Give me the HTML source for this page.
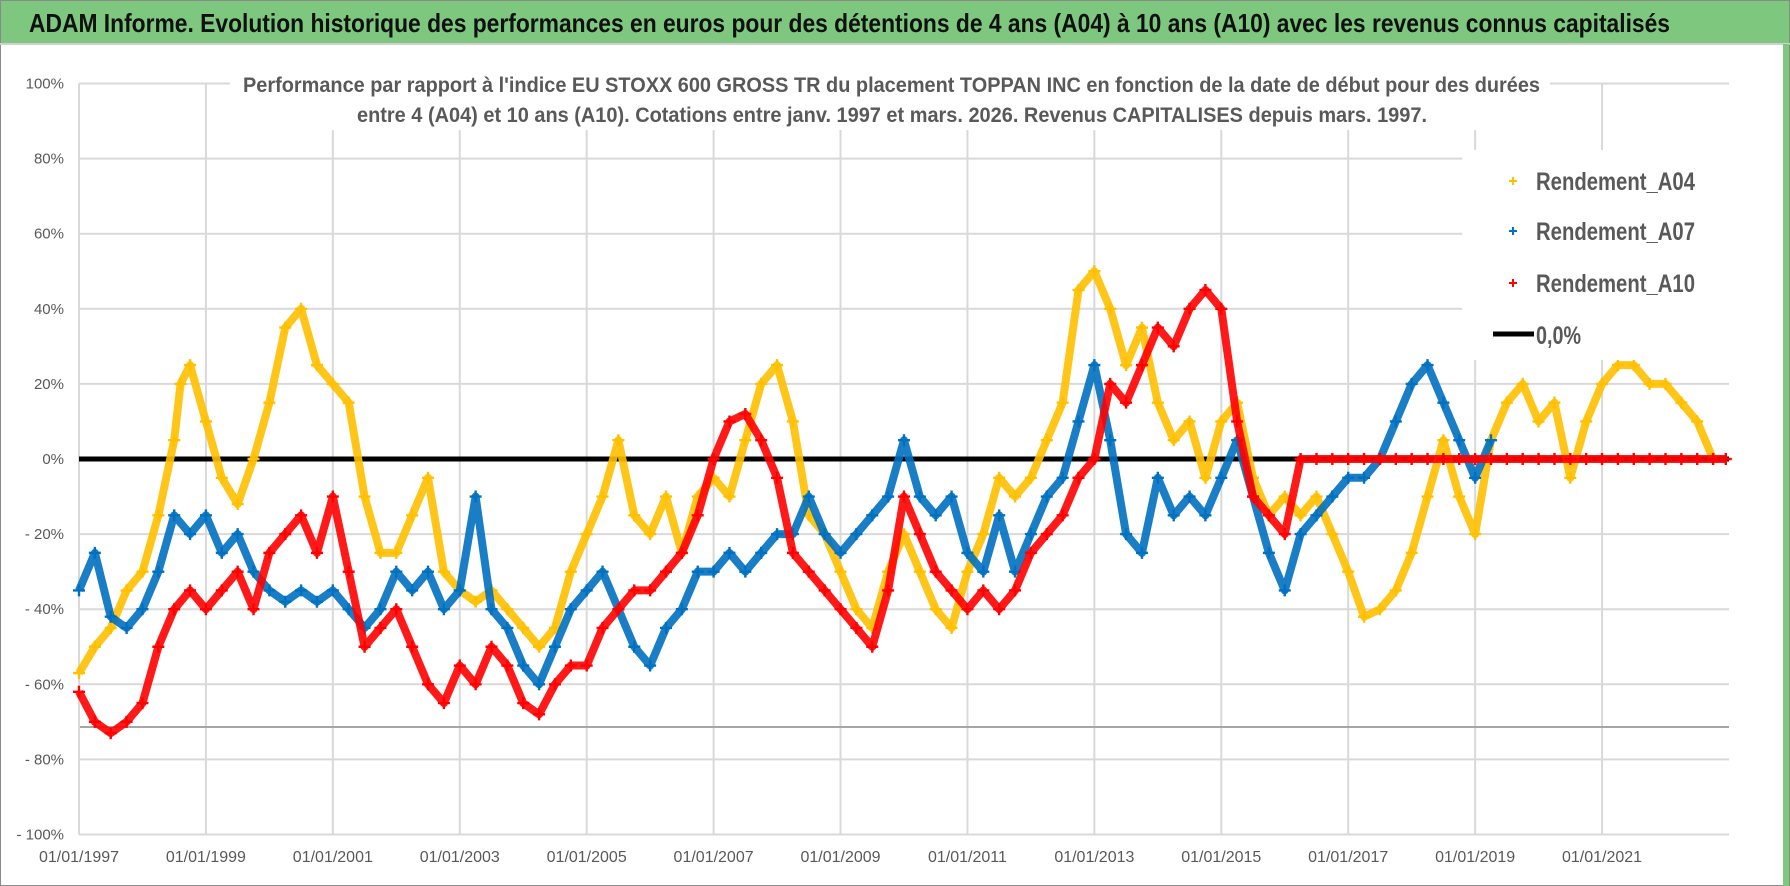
<!DOCTYPE html>
<html><head><meta charset="utf-8"><style>
html,body{margin:0;padding:0;background:#fff}
svg{display:block}
text{font-family:"Liberation Sans Narrow","Liberation Sans",sans-serif}
</style></head><body>
<svg id="chart" width="1790" height="886" viewBox="0 0 1790 886" xmlns="http://www.w3.org/2000/svg">
<rect x="0" y="0" width="1790" height="886" fill="#fff" stroke="#8a8a8a" stroke-width="2"/>
<rect x="1" y="1" width="1788" height="42" fill="#7dc77f"/>
<line x1="0" y1="44" x2="1790" y2="44" stroke="#d0d0d0" stroke-width="2"/>
<rect x="1783" y="44" width="6" height="842" fill="#7dc77f"/>
<text x="29" y="32" font-size="26" font-weight="bold" fill="#111" textLength="1641" lengthAdjust="spacingAndGlyphs">ADAM Informe. Evolution historique des performances en euros pour des détentions de 4 ans (A04) à 10 ans (A10) avec les revenus connus capitalisés</text>
<g id="grid"></g>
<rect x="230" y="68" width="1320" height="62" fill="#fff"/>
<text x="243" y="92" font-size="21" font-weight="bold" fill="#595959" textLength="1297" lengthAdjust="spacingAndGlyphs">Performance par rapport à l'indice EU STOXX 600 GROSS TR  du placement TOPPAN INC en fonction de la date de début pour des durées</text>
<text x="357" y="122" font-size="21" font-weight="bold" fill="#595959" textLength="1070" lengthAdjust="spacingAndGlyphs">entre 4 (A04) et 10 ans (A10).  Cotations entre janv. 1997 et mars. 2026.  Revenus CAPITALISES depuis mars. 1997.</text>
<g id="axes"></g>
<g id="series"></g>
<g id="legend"></g>
</svg>
<script>
const years04 = [1997,1997.25,1997.5,1997.75,1998,1998.25,1998.5,1998.6,1998.75,1999,1999.25,1999.5,1999.75,2000,2000.25,2000.5,2000.75,2001,2001.25,2001.5,2001.75,2002,2002.25,2002.5,2002.75,2003,2003.25,2003.5,2003.75,2004,2004.25,2004.5,2004.75,2005,2005.25,2005.5,2005.75,2006,2006.25,2006.5,2006.75,2007,2007.25,2007.5,2007.75,2008,2008.25,2008.5,2008.75,2009,2009.25,2009.5,2009.75,2010,2010.25,2010.5,2010.75,2011,2011.25,2011.5,2011.75,2012,2012.25,2012.5,2012.75,2013,2013.25,2013.5,2013.75,2014,2014.25,2014.5,2014.75,2015,2015.25,2015.5,2015.75,2016,2016.25,2016.5,2016.75,2017,2017.25,2017.5,2017.75,2018,2018.25,2018.5,2018.75,2019,2019.25,2019.5,2019.75,2020,2020.25,2020.5,2020.75,2021,2021.25,2021.5,2021.75,2022,2022.25,2022.5,2022.75];
const values04 = [-57,-50,-45,-35,-30,-15,5,20,25,10,-5,-12,0,15,35,40,25,20,15,-10,-25,-25,-15,-5,-30,-35,-38,-35,-40,-45,-50,-45,-30,-20,-10,5,-15,-20,-10,-25,-10,-5,-10,5,20,25,10,-15,-20,-30,-40,-45,-30,-20,-30,-40,-45,-30,-20,-5,-10,-5,5,15,45,50,40,25,35,15,5,10,-5,10,15,-5,-15,-10,-15,-10,-20,-30,-42,-40,-35,-25,-10,5,-10,-20,5,15,20,10,15,-5,10,20,25,25,20,20,15,10,0];
const years07 = [1997,1997.25,1997.5,1997.75,1998,1998.25,1998.5,1998.75,1999,1999.25,1999.5,1999.75,2000,2000.25,2000.5,2000.75,2001,2001.25,2001.5,2001.75,2002,2002.25,2002.5,2002.75,2003,2003.25,2003.5,2003.75,2004,2004.25,2004.5,2004.75,2005,2005.25,2005.5,2005.75,2006,2006.25,2006.5,2006.75,2007,2007.25,2007.5,2007.75,2008,2008.25,2008.5,2008.75,2009,2009.25,2009.5,2009.75,2010,2010.25,2010.5,2010.75,2011,2011.25,2011.5,2011.75,2012,2012.25,2012.5,2012.75,2013,2013.25,2013.5,2013.75,2014,2014.25,2014.5,2014.75,2015,2015.25,2015.5,2015.75,2016,2016.25,2016.5,2016.75,2017,2017.25,2017.5,2017.75,2018,2018.25,2018.5,2018.75,2019,2019.25];
const values07 = [-35,-25,-42,-45,-40,-30,-15,-20,-15,-25,-20,-30,-35,-38,-35,-38,-35,-40,-45,-40,-30,-35,-30,-40,-35,-10,-40,-45,-55,-60,-50,-40,-35,-30,-40,-50,-55,-45,-40,-30,-30,-25,-30,-25,-20,-20,-10,-20,-25,-20,-15,-10,5,-10,-15,-10,-25,-30,-15,-30,-20,-10,-5,10,25,5,-20,-25,-5,-15,-10,-15,-5,5,-10,-25,-35,-20,-15,-10,-5,-5,0,10,20,25,15,5,-5,5];
const years10 = [1997,1997.25,1997.5,1997.75,1998,1998.25,1998.5,1998.75,1999,1999.25,1999.5,1999.75,2000,2000.25,2000.5,2000.75,2001,2001.25,2001.5,2001.75,2002,2002.25,2002.5,2002.75,2003,2003.25,2003.5,2003.75,2004,2004.25,2004.5,2004.75,2005,2005.25,2005.5,2005.75,2006,2006.25,2006.5,2006.75,2007,2007.25,2007.5,2007.75,2008,2008.25,2008.5,2008.75,2009,2009.25,2009.5,2009.75,2010,2010.25,2010.5,2010.75,2011,2011.25,2011.5,2011.75,2012,2012.25,2012.5,2012.75,2013,2013.25,2013.5,2013.75,2014,2014.25,2014.5,2014.75,2015,2015.25,2015.5,2015.75,2016,2016.25,2016.5,2016.75,2017,2017.25,2017.5,2017.75,2018,2018.25,2018.5,2018.75,2019,2019.25,2019.5,2019.75,2020,2020.25,2020.5,2020.75,2021,2021.25,2021.5,2021.75,2022,2022.25,2022.5,2022.75,2022.95];
const values10 = [-62,-70,-73,-70,-65,-50,-40,-35,-40,-35,-30,-40,-25,-20,-15,-25,-10,-30,-50,-45,-40,-50,-60,-65,-55,-60,-50,-55,-65,-68,-60,-55,-55,-45,-40,-35,-35,-30,-25,-15,0,10,12,5,-5,-25,-30,-35,-40,-45,-50,-35,-10,-20,-30,-35,-40,-35,-40,-35,-25,-20,-15,-5,0,20,15,25,35,30,40,45,40,10,-10,-15,-20,0,0,0,0,0,0,0,0,0,0,0,0,0,0,0,0,0,0,0,0,0,0,0,0,0,0,0,0];
const yTicks = [100,80,60,40,20,0,-20,-40,-60,-80,-100];
const yTickLabels = ["100%","80%","60%","40%","20%","0%","- 20%","- 40%","- 60%","- 80%","- 100%"];
const xTickYears = [1997,1999,2001,2003,2005,2007,2009,2011,2013,2015,2017,2019,2021];
const xTickLabels = ["01/01/1997","01/01/1999","01/01/2001","01/01/2003","01/01/2005","01/01/2007","01/01/2009","01/01/2011","01/01/2013","01/01/2015","01/01/2017","01/01/2019","01/01/2021"];

const NS="http://www.w3.org/2000/svg";
const X0=79, PXY=63.46, XR=1729, Y0=459, PXV=3.755;
function sx(y){return X0+(y-1997)*PXY;}
function sy(v){return Y0-v*PXV;}
function mk(tag,attrs,parent){const e=document.createElementNS(NS,tag);for(const k in attrs)e.setAttribute(k,attrs[k]);parent.appendChild(e);return e;}
const grid=document.getElementById('grid'), axes=document.getElementById('axes'), ser=document.getElementById('series'), leg=document.getElementById('legend');

yTicks.forEach((t,i)=>{
  const l=mk('line',{x1:X0,x2:XR,y1:sy(t),y2:sy(t),stroke:'#d9d9d9','stroke-width':2},grid);
  
  
  const tx=mk('text',{x:64,y:sy(t)+5,'text-anchor':'end','font-size':15,fill:'#595959'},axes);
  tx.textContent=yTickLabels[i];
  
  
});
xTickYears.forEach((yr,i)=>{
  const l=mk('line',{x1:sx(yr),x2:sx(yr),y1:sy(100),y2:sy(-100),stroke:'#d9d9d9','stroke-width':2},grid);
  
  
  const tx=mk('text',{x:sx(yr),y:862,'text-anchor':'middle','font-size':16,fill:'#595959'},axes);
  tx.textContent=xTickLabels[i];
  
  
});
const dl=mk('line',{x1:X0,x2:XR,y1:727,y2:727,stroke:'#a6a6a6','stroke-width':2},grid);


const ya=mk('line',{x1:X0,x2:X0,y1:sy(100),y2:sy(-100),stroke:'#d9d9d9','stroke-width':2},grid);



const zl=mk('line',{x1:X0,x2:XR,y1:sy(0),y2:sy(0),stroke:'#000','stroke-width':5},ser);



function drawSeries(yrs,vals,color,name){
  const g=mk('g',{},ser);
  
  
  const pts=yrs.map((y,i)=>sx(y)+','+sy(vals[i])).join(' ');
  mk('polyline',{points:pts,fill:'none',stroke:color,'stroke-width':8,'stroke-linejoin':'round',opacity:0.9},g);
  yrs.forEach((y,i)=>{
    const x=sx(y), yy=sy(vals[i]);
    const p=mk('path',{d:`M${x-6},${yy}H${x+6}M${x},${yy-6}V${yy+6}`,stroke:color,'stroke-width':2.4},g);
    
    
  });
}
drawSeries(years04,values04,'#ffc000','series-a04');
drawSeries(years07,values07,'#0070c0','series-a07');
drawSeries(years10,values10,'#ff0000','series-a10');

// legend
mk('rect',{x:1462,y:150,width:267,height:210,fill:'#fff'},leg);
const items=[['Rendement_A04','#ffc000',181],['Rendement_A07','#0070c0',231],['Rendement_A10','#ff0000',283]];
items.forEach(it=>{
  const g=mk('g',{},leg);
  
  
  const x=1513, y=it[2];
  mk('path',{d:`M${x-4},${y}H${x+4}M${x},${y-4}V${y+4}`,stroke:it[1],'stroke-width':2},g);
  const t=mk('text',{x:1536,y:it[2]+9,'font-size':25,fill:'#595959','font-weight':'bold',textLength:159,lengthAdjust:'spacingAndGlyphs'},g);
  t.textContent=it[0];
});
const g0=mk('g',{},leg);


mk('line',{x1:1493,x2:1534,y1:334,y2:334,stroke:'#000','stroke-width':5},g0);
const t0=mk('text',{x:1536,y:344,'font-size':25,fill:'#595959','font-weight':'bold',textLength:45,lengthAdjust:'spacingAndGlyphs'},g0);
t0.textContent='0,0%';
</script>
</body></html>
